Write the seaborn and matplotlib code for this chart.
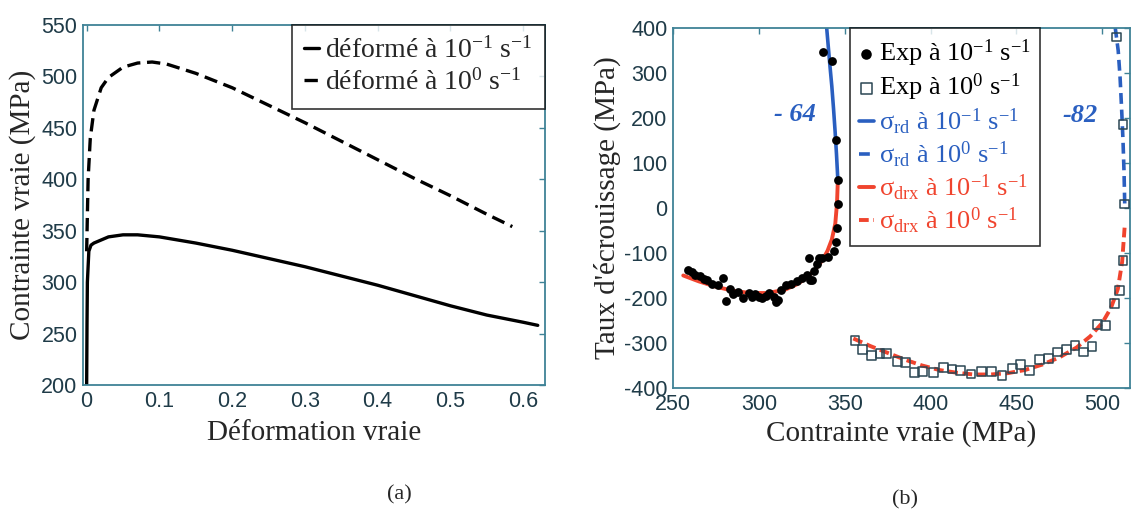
import matplotlib
matplotlib.use("Agg")
import matplotlib.pyplot as plt
import seaborn as sns

# (a) true stress-strain curves
strain_lo = [0, 0.0005, 0.001, 0.003, 0.006, 0.01, 0.02, 0.03, 0.05, 0.07, 0.1, 0.15, 0.2,
             0.25, 0.3, 0.35, 0.4, 0.45, 0.5, 0.55, 0.6, 0.62]
stress_lo = [200, 260, 300, 330, 336, 338, 341, 344, 346, 346, 344, 338, 331,
             323, 315, 306, 297, 287, 277, 268, 261, 258]
strain_hi = [0, 0.002, 0.005, 0.01, 0.02, 0.03, 0.05, 0.07, 0.09, 0.11, 0.15, 0.2,
             0.25, 0.3, 0.35, 0.4, 0.45, 0.5, 0.55, 0.585]
stress_hi = [330, 400, 440, 467, 489, 499, 509, 513, 514, 512, 503, 489,
             472, 455, 437, 419, 401, 384, 366, 354]

# (b) work hardening rate vs true stress
exp1_x = [337.5, 342.5, 345, 346, 346, 345.5, 345, 344, 340, 337, 334, 332, 330, 328, 325,
          322, 319, 316, 313, 311, 309, 306, 304, 302, 300, 298, 296, 294, 291, 288,
          285, 283, 281, 279, 276, 273, 270, 268, 266, 263, 261, 259, 329, 335, 331, 310]
exp1_y = [346, 327, 152, 62, 8, -45, -75, -95, -108, -112, -125, -140, -160, -150, -155,
          -163, -168, -172, -182, -205, -198, -190, -195, -200, -197, -192, -198, -188, -200, -186,
          -192, -180, -207, -155, -172, -168, -160, -158, -152, -148, -143, -138, -111, -111, -159, -210]
exp0_x = [356, 360.5, 365.5, 370.5, 374.5, 380.5, 385.5, 390.5, 395.5, 401.5, 407.5, 412.5,
          417.5, 423.5, 429.5, 435.5, 441.5, 447.5, 452.5, 457.5, 463.5, 468.5, 474, 479,
          484, 489, 494, 497, 502, 507, 510, 512, 513, 512, 508]
exp0_y = [-295, -314, -327, -323, -323, -341, -344, -366, -363, -366, -355, -358,
          -361, -369, -363, -363, -373, -356, -347, -361, -336, -334, -320, -314,
          -305, -320, -307, -259, -261, -212, -183, -116, 9, 185, 380]
rd1_x = [346, 345.2, 344.4, 343.5, 342.5, 341.3, 339.5]
rd1_y = [62, 120, 170, 220, 270, 320, 400]
rd0_x = [513, 512.6, 512, 511.2, 510.3, 509.2, 507.5]
rd0_y = [10, 80, 150, 220, 290, 350, 400]
drx1_x = [256, 265, 275, 285, 295, 305, 315, 322, 328, 333, 337, 340, 342.5, 344.5, 345.5, 346]
drx1_y = [-150, -163, -175, -184, -189, -189, -182, -170, -155, -136, -116, -95, -70, -35, 10, 62]
drx0_x = [355, 365, 375, 385, 395, 405, 415, 425, 435, 445, 455, 465, 475, 485, 493,
          500, 505, 509, 511.5, 513]
drx0_y = [-290, -307, -322, -337, -350, -360, -366, -370, -370, -367, -360, -348, -332, -310, -285,
          -255, -222, -180, -120, -40]

sns.set_style("white")
plt.rcParams["font.family"] = ["Liberation Serif", "DejaVu Serif"]
plt.rcParams["mathtext.fontset"] = "custom"
plt.rcParams["mathtext.rm"] = "Liberation Serif"
plt.rcParams["mathtext.it"] = "Liberation Serif:italic"
plt.rcParams["axes.unicode_minus"] = False

spine_col = "#3f8296"
tick_col = "#1f3b48"
blue = "#2a5fc0"
red = "#f0442e"

fig = plt.figure(figsize=(11.31, 5.13), dpi=100)
ax1 = fig.add_axes([0.0734, 0.2495, 0.4085, 0.7018])
ax2 = fig.add_axes([0.595, 0.2437, 0.404, 0.7018])

# ---- panel (a)
sns.lineplot(x=strain_lo, y=stress_lo, ax=ax1, color="black", linewidth=2.4,
             sort=False, estimator=None, label="déformé à 10$^{-1}$ s$^{-1}$")
sns.lineplot(x=strain_hi, y=stress_hi, ax=ax1, color="black", linewidth=2.4,
             linestyle=(0, (4, 2)), sort=False, estimator=None,
             label="déformé à 10$^{0}$ s$^{-1}$")
ax1.set_xlim(-0.005, 0.63)
ax1.set_ylim(200, 550)
ax1.set_xticks([0, 0.1, 0.2, 0.3, 0.4, 0.5, 0.6])
ax1.set_xticklabels(["0", "0.1", "0.2", "0.3", "0.4", "0.5", "0.6"])
ax1.set_yticks(range(200, 551, 50))
ax1.set_xlabel("Déformation vraie", fontsize=21, labelpad=6)
ax1.set_ylabel("Contrainte vraie (MPa)", fontsize=21, labelpad=4)
leg1 = ax1.legend(loc="upper right", borderaxespad=0, fontsize=20, frameon=True,
                  fancybox=False, edgecolor="black", handlelength=0.55, handletextpad=0.2,
                  labelspacing=0.2, borderpad=0.45)
leg1.get_frame().set_linewidth(1.2)

# ---- panel (b)
sns.scatterplot(x=exp1_x, y=exp1_y, ax=ax2, color="black", s=40, edgecolor="black",
                linewidth=0, zorder=3, label="Exp à 10$^{-1}$ s$^{-1}$")
sns.scatterplot(x=exp0_x, y=exp0_y, ax=ax2, marker="s", s=40, facecolor="none",
                edgecolor="#2b4653", linewidth=1.1, zorder=3, label="Exp à 10$^{0}$ s$^{-1}$")
sns.lineplot(x=rd1_x, y=rd1_y, ax=ax2, color=blue, linewidth=2.6, sort=False,
             estimator=None, label="σ$_{\\rm rd}$ à 10$^{-1}$ s$^{-1}$")
sns.lineplot(x=rd0_x, y=rd0_y, ax=ax2, color=blue, linewidth=2.6, linestyle=(0, (3, 1.6)),
             sort=False, estimator=None, label="σ$_{\\rm rd}$ à 10$^{0}$ s$^{-1}$")
sns.lineplot(x=drx1_x, y=drx1_y, ax=ax2, color=red, linewidth=2.8, sort=False,
             estimator=None, label="σ$_{\\rm drx}$ à 10$^{-1}$ s$^{-1}$")
sns.lineplot(x=drx0_x, y=drx0_y, ax=ax2, color=red, linewidth=2.8, linestyle=(0, (2.5, 1.2)),
             sort=False, estimator=None, label="σ$_{\\rm drx}$ à 10$^{0}$ s$^{-1}$")
ax2.set_xlim(250, 516)
ax2.set_ylim(-400, 400)
ax2.set_xticks(range(250, 501, 50))
ax2.set_yticks(range(-400, 401, 100))
ax2.set_xlabel("Contrainte vraie (MPa)", fontsize=21, labelpad=4)
ax2.set_ylabel("Taux d'écrouissage (MPa)", fontsize=21, labelpad=2)
ax2.text(321, 207, "- 64", color=blue, fontsize=19, fontweight="bold", fontstyle="italic",
         ha="center", va="center")
ax2.text(487, 205, "-82", color=blue, fontsize=19, fontweight="bold", fontstyle="italic",
         ha="center", va="center")
leg2 = ax2.legend(loc="upper left", bbox_to_anchor=(0.387, 1.0), borderaxespad=0, fontsize=19,
                  frameon=True, fancybox=False, edgecolor="black", handlelength=0.55,
                  handletextpad=0.2, labelspacing=0.12, borderpad=0.35, markerscale=1.2)
leg2.get_frame().set_linewidth(1.2)
for txt, c in zip(leg2.get_texts(), ["black", "black", blue, blue, red, red]):
    txt.set_color(c)

for ax in (ax1, ax2):
    for sp in ax.spines.values():
        sp.set_color(spine_col)
        sp.set_linewidth(1.3)
    ax.tick_params(direction="in", length=4, width=1, color=spine_col, top=True, right=True,
                   labelsize=15.5, labelcolor=tick_col, pad=4)
    for lab in ax.get_xticklabels() + ax.get_yticklabels():
        lab.set_fontfamily("Liberation Sans")

fig.text(0.353, 0.035, "(a)", fontsize=16, ha="center", va="center")
fig.text(0.80, 0.025, "(b)", fontsize=16, ha="center", va="center")

fig.savefig("out.png", dpi=100, facecolor="white")
